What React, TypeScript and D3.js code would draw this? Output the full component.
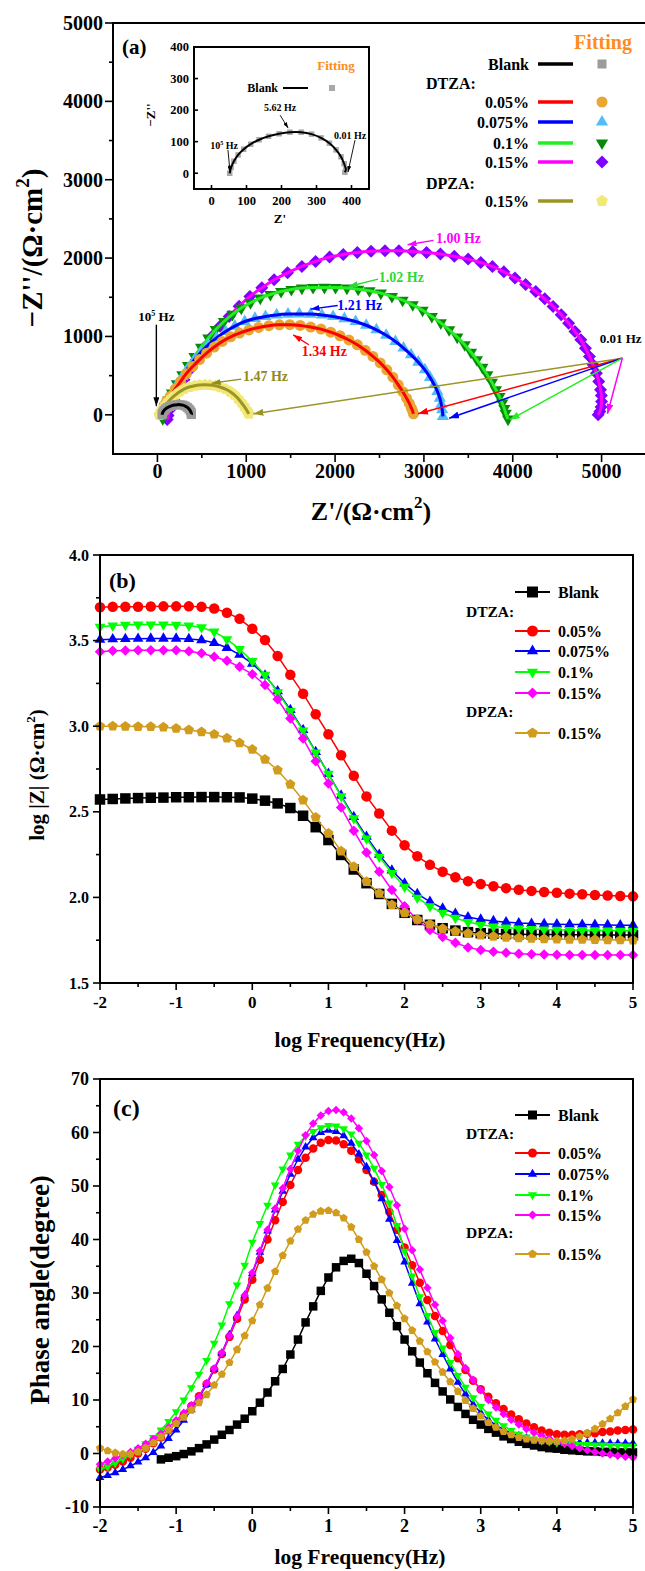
import React, { useEffect, useRef } from 'react';
import * as d3 from 'd3';

const W = 645;
const H = 1571;
const FONT = '"Liberation Serif", "Times New Roman", Times, serif';

// ---------- (a) Nyquist data: [Z', -Z''] in ohm cm2 ----------
const nyqBlank = [[52, 0], [56, 18], [64, 38], [76, 58], [92, 76], [112, 92], [136, 106], [163, 117], [193, 125], [224, 130], [256, 130], [286, 124], [313, 112], [337, 95], [356, 74], [370, 52], [379, 30], [384, 12], [381, 3]];
const nyqD005 = [[45, 5], [55, 60], [75, 120], [105, 180], [144, 234], [200, 330], [261, 426], [325, 525], [398, 617], [475, 705], [554, 787], [640, 865], [729, 936], [825, 995], [924, 1043], [1030, 1083], [1139, 1115], [1255, 1138], [1373, 1149], [1490, 1150], [1607, 1140], [1725, 1120], [1841, 1094], [1950, 1055], [2055, 1009], [2155, 955], [2250, 894], [2340, 823], [2426, 745], [2508, 662], [2582, 574], [2650, 480], [2711, 383], [2762, 295], [2804, 213], [2836, 145], [2859, 85], [2874, 45], [2882, 13]];
const nyqD0075 = [[45, 5], [52, 45], [66, 85], [110, 180], [164, 277], [220, 385], [281, 489], [345, 598], [417, 702], [492, 800], [573, 894], [665, 982], [768, 1064], [872, 1132], [983, 1191], [1098, 1230], [1217, 1255], [1342, 1275], [1470, 1285], [1597, 1288], [1724, 1285], [1851, 1273], [1977, 1255], [2105, 1227], [2231, 1191], [2350, 1143], [2465, 1085], [2575, 1015], [2679, 936], [2770, 852], [2855, 766], [2937, 672], [3011, 574], [3068, 478], [3116, 383], [3152, 298], [3179, 213], [3196, 135], [3206, 64], [3214, -21]];
const nyqD01 = [[60, -50], [66, 20], [90, 100], [124, 190], [164, 277], [220, 395], [281, 511], [345, 628], [417, 745], [492, 862], [573, 979], [657, 1088], [749, 1191], [845, 1282], [944, 1362], [1048, 1430], [1158, 1489], [1272, 1536], [1392, 1574], [1508, 1600], [1626, 1617], [1752, 1625], [1880, 1626], [2005, 1624], [2133, 1617], [2260, 1603], [2387, 1583], [2515, 1553], [2640, 1511], [2760, 1463], [2874, 1404], [2985, 1334], [3089, 1255], [3190, 1173], [3284, 1085], [3375, 992], [3459, 894], [3530, 798], [3596, 702], [3658, 606], [3713, 511], [3765, 415], [3810, 319], [3850, 232], [3881, 149], [3905, 80], [3920, 21], [3947, -55]];
const nyqD015 = [[110, -60], [120, -10], [135, 60], [158, 125], [183, 191], [240, 320], [300, 447], [365, 575], [437, 702], [520, 852], [612, 1000], [705, 1130], [807, 1255], [920, 1387], [1041, 1511], [1175, 1620], [1314, 1723], [1465, 1812], [1626, 1894], [1780, 1958], [1938, 2013], [2092, 2047], [2250, 2072], [2405, 2086], [2562, 2094], [2718, 2093], [2874, 2085], [3030, 2071], [3186, 2051], [3342, 2022], [3498, 1987], [3640, 1943], [3771, 1894], [3900, 1825], [4025, 1745], [4145, 1662], [4259, 1574], [4360, 1480], [4454, 1383], [4545, 1278], [4629, 1170], [4700, 1063], [4766, 957], [4818, 851], [4863, 745], [4905, 638], [4942, 532], [4968, 425], [4988, 319], [4998, 245], [5000, 170], [4994, 100], [4981, 43], [4961, 0]];
const nyqP015 = [[20, 0], [40, 45], [66, 85], [95, 130], [125, 170], [162, 215], [203, 255], [250, 295], [300, 328], [358, 355], [417, 370], [475, 380], [534, 383], [592, 380], [651, 370], [710, 352], [768, 328], [820, 295], [866, 255], [908, 207], [944, 157], [975, 110], [1002, 64], [1020, 30], [1030, 13]];

// characteristic-frequency labels in (a): label centre, arrow tail, arrow head
const nyqNotes = [
  { key: 'p015', text: '1.47 Hz', at: [1217, 489], from: [944, 455], to: [612, 404] },
  { key: 'd005', text: '1.34 Hz', at: [1880, 808], from: [1704, 894], to: [1529, 1021] },
  { key: 'd0075', text: '1.21 Hz', at: [2278, 1404], from: [2030, 1395], to: [1724, 1349] },
  { key: 'd01', text: '1.02 Hz', at: [2746, 1757], from: [2484, 1732], to: [2153, 1638] },
  { key: 'd015', text: '1.00 Hz', at: [3389, 2255], from: [3108, 2226], to: [2816, 2170] },
];
const lowFreqFrom = [5234, 723];
const lowFreqTo = { p015: [1080, 13], d005: [2933, 13], d0075: [3284, -43], d01: [3966, -64], d015: [5066, 13] };

// ---------- (b) Bode modulus, 6 points per decade ----------
const freqB = [-2, -1.833, -1.667, -1.5, -1.333, -1.167, -1, -0.833, -0.667, -0.5, -0.333, -0.167, 0, 0.167, 0.333, 0.5, 0.667, 0.833, 1, 1.167, 1.333, 1.5, 1.667, 1.833, 2, 2.167, 2.333, 2.5, 2.667, 2.833, 3, 3.167, 3.333, 3.5, 3.667, 3.833, 4, 4.167, 4.333, 4.5, 4.667, 4.833, 5];
const logZBlank = [2.572, 2.575, 2.578, 2.58, 2.582, 2.583, 2.585, 2.585, 2.586, 2.586, 2.585, 2.584, 2.577, 2.565, 2.549, 2.522, 2.477, 2.41, 2.335, 2.248, 2.163, 2.083, 2.02, 1.962, 1.91, 1.868, 1.84, 1.82, 1.806, 1.797, 1.791, 1.788, 1.786, 1.785, 1.784, 1.783, 1.783, 1.782, 1.782, 1.781, 1.781, 1.78, 1.78];
const logZD005 = [3.695, 3.697, 3.698, 3.698, 3.699, 3.7, 3.7, 3.7, 3.697, 3.688, 3.663, 3.627, 3.569, 3.504, 3.41, 3.3, 3.19, 3.07, 2.953, 2.83, 2.71, 2.59, 2.49, 2.39, 2.305, 2.24, 2.19, 2.15, 2.118, 2.095, 2.078, 2.065, 2.054, 2.045, 2.038, 2.032, 2.027, 2.022, 2.018, 2.014, 2.011, 2.008, 2.006];
const logZD0075 = [3.505, 3.508, 3.51, 3.511, 3.512, 3.512, 3.512, 3.51, 3.503, 3.487, 3.458, 3.418, 3.366, 3.296, 3.205, 3.095, 2.978, 2.85, 2.722, 2.595, 2.47, 2.355, 2.25, 2.158, 2.082, 2.02, 1.975, 1.936, 1.905, 1.885, 1.871, 1.862, 1.855, 1.85, 1.847, 1.845, 1.843, 1.842, 1.841, 1.84, 1.839, 1.838, 1.838];
const logZD01 = [3.58, 3.588, 3.592, 3.594, 3.594, 3.594, 3.592, 3.588, 3.577, 3.552, 3.508, 3.45, 3.38, 3.3, 3.198, 3.088, 2.975, 2.846, 2.722, 2.59, 2.462, 2.344, 2.237, 2.142, 2.062, 1.998, 1.948, 1.91, 1.88, 1.856, 1.84, 1.83, 1.823, 1.818, 1.815, 1.812, 1.81, 1.809, 1.808, 1.807, 1.806, 1.805, 1.805];
const logZD015 = [3.435, 3.44, 3.442, 3.443, 3.444, 3.444, 3.443, 3.438, 3.426, 3.406, 3.382, 3.347, 3.304, 3.24, 3.157, 3.045, 2.928, 2.795, 2.665, 2.525, 2.39, 2.262, 2.15, 2.043, 1.948, 1.868, 1.81, 1.768, 1.735, 1.708, 1.693, 1.683, 1.676, 1.671, 1.668, 1.666, 1.665, 1.664, 1.664, 1.663, 1.663, 1.663, 1.663];
const logZP015 = [3.0, 3.0, 2.999, 2.998, 2.997, 2.995, 2.987, 2.978, 2.967, 2.953, 2.93, 2.903, 2.864, 2.806, 2.743, 2.66, 2.568, 2.467, 2.374, 2.27, 2.18, 2.092, 2.023, 1.957, 1.91, 1.872, 1.843, 1.818, 1.802, 1.79, 1.78, 1.772, 1.767, 1.763, 1.76, 1.758, 1.756, 1.755, 1.754, 1.753, 1.752, 1.751, 1.75];

// ---------- (c) Bode phase, 10 points per decade ----------
const freqC = [-2, -1.9, -1.8, -1.7, -1.6, -1.5, -1.4, -1.3, -1.2, -1.1, -1, -0.9, -0.8, -0.7, -0.6, -0.5, -0.4, -0.3, -0.2, -0.1, 0, 0.1, 0.2, 0.3, 0.4, 0.5, 0.6, 0.7, 0.8, 0.9, 1, 1.1, 1.2, 1.3, 1.4, 1.5, 1.6, 1.7, 1.8, 1.9, 2, 2.1, 2.2, 2.3, 2.4, 2.5, 2.6, 2.7, 2.8, 2.9, 3, 3.1, 3.2, 3.3, 3.4, 3.5, 3.6, 3.7, 3.8, 3.9, 4, 4.1, 4.2, 4.3, 4.4, 4.5, 4.6, 4.7, 4.8, 4.9, 5];
const phaseBlank = [null, null, null, null, null, null, null, null, -1.1, -0.8, -0.5, -0.1, 0.4, 1.0, 1.7, 2.6, 3.5, 4.4, 5.4, 6.5, 7.9, 9.5, 11.4, 13.5, 15.8, 18.5, 21.3, 24.5, 27.5, 30.4, 32.9, 34.8, 36.0, 36.4, 35.6, 33.6, 31.3, 28.8, 26.3, 23.8, 21.3, 19.1, 17.0, 15.0, 13.2, 11.6, 10.1, 8.7, 7.4, 6.3, 5.4, 4.6, 3.9, 3.2, 2.7, 2.2, 1.8, 1.5, 1.2, 1.0, 0.9, 0.7, 0.6, 0.5, 0.4, 0.4, 0.3, 0.3, 0.2, 0.2, 0.2];
const phaseD005 = [-3.0, -2.6, -2.1, -1.5, -0.8, 0.0, 0.9, 1.9, 3.0, 4.3, 5.7, 7.2, 8.9, 10.7, 13.0, 15.7, 18.6, 21.8, 25.2, 28.8, 32.5, 36.2, 40.0, 43.6, 47.0, 50.2, 53.0, 55.3, 57.0, 58.1, 58.6, 58.5, 57.8, 56.6, 55.0, 53.0, 50.8, 48.3, 45.2, 41.8, 38.5, 35.2, 31.9, 28.7, 25.7, 22.9, 20.3, 17.8, 15.6, 13.6, 12.0, 10.6, 9.4, 8.3, 7.3, 6.4, 5.6, 4.9, 4.3, 3.9, 3.6, 3.5, 3.5, 3.6, 3.7, 3.8, 4.0, 4.1, 4.3, 4.4, 4.5];
const phaseD0075 = [-4.5, -4.1, -3.6, -3.0, -2.3, -1.6, -0.8, 0.2, 1.4, 2.8, 4.4, 6.2, 8.2, 10.4, 12.9, 15.7, 18.8, 22.2, 25.8, 29.6, 33.6, 37.6, 41.6, 45.5, 49.0, 52.2, 55.0, 57.3, 59.0, 60.0, 60.4, 60.2, 59.4, 58.0, 56.0, 53.6, 50.8, 47.6, 43.8, 39.8, 35.8, 31.8, 28.0, 24.6, 21.4, 18.5, 15.8, 13.3, 11.1, 9.2, 7.6, 6.3, 5.3, 4.5, 3.8, 3.3, 2.9, 2.6, 2.4, 2.3, 2.2, 2.1, 2.1, 2.0, 2.0, 2.0, 1.9, 1.9, 1.9, 1.9, 1.9];
const phaseD01 = [-3.0, -2.5, -1.8, -1.0, -0.2, 0.8, 1.8, 3.0, 4.4, 6.0, 7.8, 10.0, 12.3, 14.8, 17.4, 20.6, 24.0, 28.0, 31.5, 35.2, 39.5, 43.0, 46.4, 50.2, 53.2, 55.8, 57.8, 59.3, 60.2, 60.9, 61.3, 61.2, 60.7, 59.7, 58.0, 55.8, 53.3, 50.3, 46.8, 42.6, 37.8, 33.2, 29.3, 25.8, 22.6, 19.7, 17.0, 14.6, 12.4, 10.4, 8.8, 7.4, 6.2, 5.2, 4.3, 3.6, 3.1, 2.7, 2.4, 2.2, 2.0, 1.9, 1.8, 1.7, 1.7, 1.6, 1.6, 1.5, 1.5, 1.4, 1.4];
const phaseD015 = [-2.0, -1.5, -0.9, -0.3, 0.3, 1.0, 1.8, 2.7, 3.7, 4.9, 6.2, 7.6, 9.0, 10.6, 13.2, 15.9, 18.8, 22.0, 25.6, 29.6, 33.8, 37.9, 41.8, 45.8, 49.6, 53.2, 56.6, 59.5, 61.7, 63.2, 64.0, 64.2, 63.8, 62.6, 60.8, 58.4, 55.8, 52.8, 49.8, 46.4, 42.0, 38.0, 34.4, 31.0, 27.8, 24.8, 21.6, 18.6, 16.0, 13.8, 11.8, 10.0, 8.6, 7.4, 6.3, 5.4, 4.6, 3.9, 3.3, 2.8, 2.3, 1.8, 1.4, 1.0, 0.6, 0.3, 0.0, -0.2, -0.4, -0.6, -0.8];
const phaseP015 = [1.0, 0.5, 0.1, -0.1, -0.1, 0.3, 1.0, 2.0, 3.1, 4.4, 5.6, 6.8, 8.1, 9.5, 11.0, 12.8, 14.8, 17.0, 19.4, 22.0, 24.8, 27.8, 30.9, 34.0, 37.0, 39.7, 41.9, 43.6, 44.7, 45.3, 45.4, 45.0, 44.0, 42.3, 40.0, 37.6, 35.0, 32.5, 30.0, 27.6, 25.2, 23.0, 21.0, 19.0, 17.1, 15.2, 13.4, 11.6, 9.9, 8.4, 7.0, 5.8, 4.9, 4.1, 3.5, 3.0, 2.7, 2.5, 2.4, 2.3, 2.3, 2.4, 2.7, 3.2, 3.8, 4.6, 5.5, 6.5, 7.6, 8.8, 10.1];

const seriesKeys = ['blank', 'd005', 'd0075', 'd01', 'd015', 'p015'];
const seriesNames = { blank: 'Blank', d005: '0.05%', d0075: '0.075%', d01: '0.1%', d015: '0.15%', p015: '0.15%' };
const legendOrder = ['blank', 'DTZA:', 'd005', 'd0075', 'd01', 'd015', 'DPZA:', 'p015'];

const nyqStyle = {
  blank: { line: '#000000', fill: '#9b9b9b', shape: 'square', size: 9 },
  d005: { line: '#ff0000', fill: '#e9a633', shape: 'circle', size: 11 },
  d0075: { line: '#0000ff', fill: '#52bdf6', shape: 'triangle', size: 12 },
  d01: { line: '#22ee22', fill: '#078a07', shape: 'triangleDown', size: 12 },
  d015: { line: '#ff00ff', fill: '#8000ff', shape: 'diamond', size: 13 },
  p015: { line: '#9c9424', fill: '#f2e878', shape: 'pentagon', size: 12 },
};
const noteColor = { p015: '#8f8b1d', d005: '#ff0000', d0075: '#0000ff', d01: '#2fd82f', d015: '#ff00ff' };
const bodeStyle = {
  blank: { color: '#000000', shape: 'square' },
  d005: { color: '#ff0000', shape: 'circle' },
  d0075: { color: '#0000ff', shape: 'triangle' },
  d01: { color: '#00ff00', shape: 'triangleDown' },
  d015: { color: '#ff00ff', shape: 'diamond' },
  p015: { color: '#d19c1d', shape: 'pentagon' },
};

const symbolPentagon = {
  draw(ctx, size) {
    const r = Math.sqrt(size / 2.378);
    for (let i = 0; i < 5; i++) {
      const a = -Math.PI / 2 + (i * 2 * Math.PI) / 5;
      if (i === 0) ctx.moveTo(r * Math.cos(a), r * Math.sin(a));
      else ctx.lineTo(r * Math.cos(a), r * Math.sin(a));
    }
    ctx.closePath();
  },
};

function markerPath(shape: string, s: number) {
  if (shape === 'circle') return d3.symbol(d3.symbolCircle, (Math.PI * s * s) / 4)();
  if (shape === 'square') return d3.symbol(d3.symbolSquare, s * s)();
  if (shape === 'diamond') return d3.symbol(d3.symbolSquare, (s * s) / 2)();
  if (shape === 'pentagon') return d3.symbol(symbolPentagon as any, 0.62 * s * s)();
  return d3.symbol(d3.symbolTriangle, 0.45 * s * s)();
}

function drawMarkers(g, pts, x, y, shape, size, fill) {
  const d = markerPath(shape, size);
  const rot = shape === 'triangleDown' ? 180 : shape === 'diamond' ? 45 : 0;
  g.append('g')
    .selectAll('path')
    .data(pts.filter((p) => p[1] != null))
    .join('path')
    .attr('d', d)
    .attr('fill', fill)
    .attr('transform', (p) => `translate(${x(p[0])},${y(p[1])}) rotate(${rot})`);
}

function arrowHead(defs, id, color, w = 9, h = 6) {
  defs.append('marker')
    .attr('id', id)
    .attr('viewBox', `0 ${-h / 2} ${w} ${h}`)
    .attr('refX', w)
    .attr('refY', 0)
    .attr('markerWidth', w)
    .attr('markerHeight', h)
    .attr('markerUnits', 'userSpaceOnUse')
    .attr('orient', 'auto')
    .append('path')
    .attr('d', `M0,${-h / 2}L${w},0L0,${h / 2}Z`)
    .attr('fill', color);
}

// ticks pointing inside the frame, labels outside
function drawTicks(g, x, y, o) {
  const [L] = x.range();
  const [B] = y.range();
  const tick = (x1, y1, x2, y2) =>
    g.append('line').attr('x1', x1).attr('y1', y1).attr('x2', x2).attr('y2', y2).attr('stroke', '#000').attr('stroke-width', 1.6);
  const dir = o.outward ? 1 : -1;
  o.xMajor.forEach((v) => tick(x(v), B, x(v), B - dir * o.len[0]));
  o.xMinor.forEach((v) => tick(x(v), B, x(v), B - dir * o.len[1]));
  o.yMajor.forEach((v) => tick(L, y(v), L + dir * o.len[0], y(v)));
  o.yMinor.forEach((v) => tick(L, y(v), L + dir * o.len[1], y(v)));
  o.xMajor.forEach((v) =>
    g.append('text').attr('x', x(v)).attr('y', B + o.xLabelDy).attr('text-anchor', 'middle').attr('font-size', o.xFont).text(o.xFmt(v))
  );
  o.yMajor.forEach((v) =>
    g.append('text').attr('x', L - o.yLabelDx).attr('y', y(v)).attr('dy', '0.35em').attr('text-anchor', 'end').attr('font-size', o.yFont).text(o.yFmt(v))
  );
}

function unitTitle(t, pre: string, supSize: number) {
  t.append('tspan').text(pre + '(Ω·cm');
  t.append('tspan').attr('dy', -supSize * 0.7).attr('font-size', supSize).text('2');
  t.append('tspan').attr('dy', supSize * 0.7).text(')');
}

function drawNyquist(svg, defs) {
  const x = d3.scaleLinear().domain([-500, 5500]).range([113, 646]);
  const y = d3.scaleLinear().domain([-500, 5000]).range([454, 23]);
  const [L, R] = x.range();
  const [B, T] = y.range();
  const g = svg.append('g').attr('font-family', FONT).attr('font-weight', 'bold');
  const data = { blank: nyqBlank, d005: nyqD005, d0075: nyqD0075, d01: nyqD01, d015: nyqD015, p015: nyqP015 };

  const line = d3.line().x((d) => x(d[0])).y((d) => y(d[1])).curve(d3.curveCatmullRom);
  ['d015', 'd01', 'd0075', 'd005', 'p015', 'blank'].forEach((k) => {
    const st = nyqStyle[k];
    drawMarkers(g, data[k], x, y, st.shape, st.size, st.fill);
    g.append('path').attr('d', line(data[k])).attr('fill', 'none').attr('stroke', st.line).attr('stroke-width', 3);
  });

  // frame (right side runs off the page)
  g.append('path').attr('d', `M${R},${T}H${L}V${B}H${R}`).attr('fill', 'none').attr('stroke', '#000').attr('stroke-width', 2);
  drawTicks(g, x, y, {
    xMajor: d3.range(0, 5001, 1000), xMinor: d3.range(500, 5500, 1000),
    yMajor: d3.range(0, 5001, 1000), yMinor: d3.range(-500, 5000, 1000).filter((v) => v > -500),
    len: [8, 4], xFont: 20, yFont: 20, xLabelDy: 24, yLabelDx: 10,
    xFmt: (v) => String(v), yFmt: (v) => String(v),
  });

  g.append('text').attr('x', 122).attr('y', 47).attr('dy', '0.35em').attr('font-size', 21).text('(a)');
  const xt = g.append('text').attr('x', 371).attr('y', 520).attr('text-anchor', 'middle').attr('font-size', 26);
  xt.append('tspan').text("Z'/");
  unitTitle(xt, '', 17);
  const yt = g.append('text').attr('transform', 'translate(42,248) rotate(-90)').attr('text-anchor', 'middle').attr('font-size', 29);
  unitTitle(yt, "\u2212Z''/", 19);

  // high-frequency marker
  arrowHead(defs, 'ah-black', '#000');
  g.append('line').attr('x1', x(-12)).attr('y1', y(1150)).attr('x2', x(-12)).attr('y2', y(110))
    .attr('stroke', '#000').attr('stroke-width', 1.4).attr('marker-end', 'url(#ah-black)');
  const hf = g.append('text').attr('x', x(-12)).attr('y', y(1255)).attr('dy', '0.35em').attr('text-anchor', 'middle').attr('font-size', 13);
  hf.append('tspan').text('10');
  hf.append('tspan').attr('dy', -5).attr('font-size', 8).text('5');
  hf.append('tspan').attr('dy', 5).text(' Hz');

  // characteristic frequencies
  nyqNotes.forEach((n) => {
    const c = noteColor[n.key];
    arrowHead(defs, 'ah-' + n.key, c);
    g.append('line').attr('x1', x(n.from[0])).attr('y1', y(n.from[1])).attr('x2', x(n.to[0])).attr('y2', y(n.to[1]))
      .attr('stroke', c).attr('stroke-width', 1.4).attr('marker-end', `url(#ah-${n.key})`);
    g.append('text').attr('x', x(n.at[0])).attr('y', y(n.at[1])).attr('dy', '0.35em').attr('text-anchor', 'middle')
      .attr('font-size', 14).attr('fill', c).text(n.text);
  });

  // 0.01 Hz arrows
  Object.keys(lowFreqTo).forEach((k) => {
    const c = nyqStyle[k].line;
    arrowHead(defs, 'lf-' + k, c, 10, 7);
    g.append('line').attr('x1', x(lowFreqFrom[0])).attr('y1', y(lowFreqFrom[1])).attr('x2', x(lowFreqTo[k][0])).attr('y2', y(lowFreqTo[k][1]))
      .attr('stroke', c).attr('stroke-width', 1.5).attr('marker-end', `url(#lf-${k})`);
  });
  g.append('text').attr('x', x(5214)).attr('y', y(979)).attr('dy', '0.35em').attr('text-anchor', 'middle').attr('font-size', 13).text('0.01 Hz');

  // legend
  g.append('text').attr('x', 603).attr('y', 42).attr('dy', '0.35em').attr('text-anchor', 'middle').attr('font-size', 20).attr('fill', '#ff8c1a').text('Fitting');
  const rowY = [64, 83, 102, 122, 143, 162, 183, 201];
  legendOrder.forEach((k, i) => {
    if (!nyqStyle[k]) {
      g.append('text').attr('x', 426).attr('y', rowY[i]).attr('dy', '0.35em').attr('font-size', 16).text(k);
      return;
    }
    const st = nyqStyle[k];
    g.append('text').attr('x', 529).attr('y', rowY[i]).attr('dy', '0.35em').attr('text-anchor', 'end').attr('font-size', 16).text(seriesNames[k]);
    g.append('line').attr('x1', 538).attr('x2', 573).attr('y1', rowY[i]).attr('y2', rowY[i]).attr('stroke', st.line).attr('stroke-width', 3.5);
    drawMarkers(g, [[0, 0]], (v) => 602 + v, (v) => rowY[i] + v, st.shape, st.size, st.fill);
  });

  // inset: blank alone
  const xi = d3.scaleLinear().domain([-50, 450]).range([194, 369]);
  const yi = d3.scaleLinear().domain([-50, 400]).range([189, 47]);
  const gi = g.append('g');
  gi.append('rect').attr('x', 194).attr('y', 47).attr('width', 175).attr('height', 142).attr('fill', '#fff');
  drawMarkers(gi, nyqBlank, xi, yi, 'square', 5.5, '#a8a8a8');
  gi.append('path')
    .attr('d', d3.line().x((d) => xi(d[0])).y((d) => yi(d[1])).curve(d3.curveCatmullRom)(nyqBlank))
    .attr('fill', 'none').attr('stroke', '#000').attr('stroke-width', 2);
  gi.append('rect').attr('x', 194).attr('y', 47).attr('width', 175).attr('height', 142).attr('fill', 'none').attr('stroke', '#000').attr('stroke-width', 2);
  drawTicks(gi, xi, yi, {
    xMajor: d3.range(0, 401, 100), xMinor: [], yMajor: d3.range(0, 401, 100), yMinor: [],
    len: [4, 2], outward: true, xFont: 12.5, yFont: 12.5, xLabelDy: 16, yLabelDx: 5,
    xFmt: (v) => String(v), yFmt: (v) => String(v),
  });
  gi.append('text').attr('x', 280).attr('y', 223).attr('text-anchor', 'middle').attr('font-size', 13).text("Z'");
  gi.append('text').attr('transform', 'translate(155,115) rotate(-90)').attr('text-anchor', 'middle').attr('font-size', 13).text("\u2212Z''");
  arrowHead(defs, 'ah-inset', '#000', 6, 4);
  const insetNotes = [
    { at: [36, 89], from: [47, 74], to: [53, 4], sup: true },
    { at: [196, 207], from: [196, 184], to: [219, 143], text: '5.62 Hz' },
    { at: [396, 121], from: [410, 105], to: [390, 4], text: '0.01 Hz' },
  ];
  insetNotes.forEach((n) => {
    gi.append('line').attr('x1', xi(n.from[0])).attr('y1', yi(n.from[1])).attr('x2', xi(n.to[0])).attr('y2', yi(n.to[1]))
      .attr('stroke', '#000').attr('stroke-width', 0.9).attr('marker-end', 'url(#ah-inset)');
    const t = gi.append('text').attr('x', xi(n.at[0])).attr('y', yi(n.at[1])).attr('dy', '0.35em').attr('text-anchor', 'middle').attr('font-size', 10);
    if (n.sup) {
      t.append('tspan').text('10');
      t.append('tspan').attr('dy', -4).attr('font-size', 6).text('5');
      t.append('tspan').attr('dy', 4).text(' Hz');
    } else t.text(n.text);
  });
  gi.append('text').attr('x', 336).attr('y', 65).attr('dy', '0.35em').attr('text-anchor', 'middle').attr('font-size', 13).attr('fill', '#ff8c1a').text('Fitting');
  gi.append('text').attr('x', 278).attr('y', 88).attr('dy', '0.35em').attr('text-anchor', 'end').attr('font-size', 12).text('Blank');
  gi.append('line').attr('x1', 283).attr('x2', 308).attr('y1', 88).attr('y2', 88).attr('stroke', '#000').attr('stroke-width', 2);
  drawMarkers(gi, [[0, 0]], (v) => 332 + v, (v) => 88 + v, 'square', 6, '#a8a8a8');
}

function drawFreqPanel(svg, cfg) {
  const x = d3.scaleLinear().domain([-2, 5]).range([100, 633]);
  const y = d3.scaleLinear().domain(cfg.yDomain).range([cfg.bottom, cfg.top]);
  const g = svg.append('g').attr('font-family', FONT).attr('font-weight', 'bold');

  const line = d3.line().defined((d) => d[1] != null).x((d) => x(d[0])).y((d) => y(d[1]));
  seriesKeys.forEach((k) => {
    const pts = cfg.freq.map((f, i) => [f, cfg.data[k][i]]);
    const st = bodeStyle[k];
    g.append('path').attr('d', line(pts)).attr('fill', 'none').attr('stroke', st.color).attr('stroke-width', 1.5);
    drawMarkers(g, pts, x, y, st.shape, cfg.markerSize, st.color);
  });

  g.append('rect').attr('x', 100).attr('y', cfg.top).attr('width', 533).attr('height', cfg.bottom - cfg.top)
    .attr('fill', 'none').attr('stroke', '#000').attr('stroke-width', 2);
  drawTicks(g, x, y, {
    xMajor: d3.range(-2, 5.01, 1), xMinor: d3.range(-1.5, 5, 1),
    yMajor: cfg.yMajor, yMinor: cfg.yMinor, len: [7, 4],
    xFont: cfg.xFont, yFont: cfg.yFont, xLabelDy: 25, yLabelDx: 11,
    xFmt: (v) => String(v), yFmt: cfg.yFmt,
  });
  g.append('text').attr('x', cfg.tagAt[0]).attr('y', cfg.tagAt[1]).attr('dy', '0.35em').attr('font-size', cfg.tagFont).text(cfg.tag);
  g.append('text').attr('x', 360).attr('y', cfg.xTitleY).attr('text-anchor', 'middle').attr('font-size', 21.5).text('log Frequency(Hz)');
  const yt = g.append('text').attr('transform', `translate(${cfg.yTitleAt[0]},${cfg.yTitleAt[1]}) rotate(-90)`)
    .attr('text-anchor', 'middle').attr('font-size', cfg.yTitleFont);
  if (cfg.yTitleUnit) unitTitle(yt, cfg.yTitle, 13);
  else yt.text(cfg.yTitle);

  // legend
  legendOrder.forEach((k, i) => {
    const ly = cfg.legendY[i];
    if (!bodeStyle[k]) {
      g.append('text').attr('x', 466).attr('y', ly).attr('dy', '0.35em').attr('font-size', 15.5).text(k);
      return;
    }
    const st = bodeStyle[k];
    g.append('line').attr('x1', 515).attr('x2', 550).attr('y1', ly).attr('y2', ly).attr('stroke', st.color).attr('stroke-width', 1.8);
    drawMarkers(g, [[0, 0]], (v) => 532.5 + v, (v) => ly + v, st.shape, cfg.markerSize + 0.5, st.color);
    g.append('text').attr('x', 558).attr('y', ly).attr('dy', '0.35em').attr('font-size', 16).text(seriesNames[k]);
  });
}

const bodeCfg = {
  freq: freqB,
  data: { blank: logZBlank, d005: logZD005, d0075: logZD0075, d01: logZD01, d015: logZD015, p015: logZP015 },
  yDomain: [1.5, 4.0], top: 555, bottom: 983,
  yMajor: [1.5, 2.0, 2.5, 3.0, 3.5, 4.0], yMinor: [1.75, 2.25, 2.75, 3.25, 3.75], yFmt: d3.format('.1f'),
  xFont: 17, yFont: 16, markerSize: 10.5,
  tag: '(b)', tagAt: [109, 580], tagFont: 22,
  xTitleY: 1047, yTitle: 'log |Z| ', yTitleUnit: true, yTitleAt: [44, 775], yTitleFont: 21,
  legendY: [592, 612, 631, 651, 672, 693, 712, 733],
};

const phaseCfg = {
  freq: freqC,
  data: { blank: phaseBlank, d005: phaseD005, d0075: phaseD0075, d01: phaseD01, d015: phaseD015, p015: phaseP015 },
  yDomain: [-10, 70], top: 1079, bottom: 1507,
  yMajor: d3.range(-10, 71, 10), yMinor: d3.range(-5, 70, 10), yFmt: (v) => String(v),
  xFont: 18, yFont: 18, markerSize: 8.5,
  tag: '(c)', tagAt: [113, 1108], tagFont: 24,
  xTitleY: 1564, yTitle: 'Phase angle(degree)', yTitleUnit: false, yTitleAt: [49, 1290], yTitleFont: 27,
  legendY: [1115, 1134, 1153, 1174, 1195, 1215, 1233, 1254],
};

export default function App() {
  const ref = useRef<SVGSVGElement>(null);
  useEffect(() => {
    document.body.style.margin = '0';
    const svg = d3.select(ref.current);
    svg.selectAll('*').remove();
    const defs = svg.append('defs');
    drawNyquist(svg, defs);
    drawFreqPanel(svg, bodeCfg);
    drawFreqPanel(svg, phaseCfg);
  }, []);
  return (
    <svg ref={ref} width={W} height={H} style={{ position: 'absolute', left: 0, top: 0, background: '#fff', display: 'block' }} />
  );
}
